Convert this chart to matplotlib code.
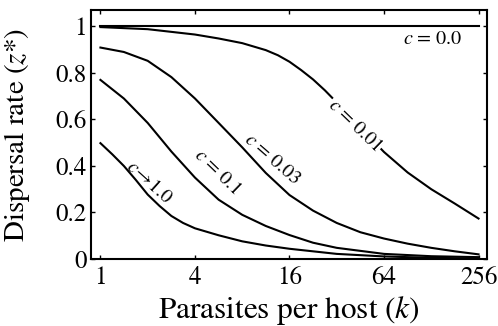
import numpy as np
import matplotlib
matplotlib.use("Agg")
import matplotlib.pyplot as plt
from matplotlib.ticker import NullLocator

# serif look of the original figure
matplotlib.rc('font', family='STIXGeneral')
matplotlib.rc('mathtext', fontset='stix')

# values (k on a log2 axis)
k_flat = [1, 256]
z_flat = [1.0, 1.0]

k_c001 = [1, 2, 4, 5.66, 8, 11.3, 13.5, 16, 19, 22.6, 26.9, 32, 45.3, 64,
          90.5, 128, 181, 256]
z_c001 = [0.997, 0.988, 0.965, 0.948, 0.928, 0.898, 0.876, 0.848, 0.812,
          0.772, 0.725, 0.673, 0.565, 0.46, 0.372, 0.30, 0.238, 0.174]

k_c003 = [1, 1.41, 2, 2.83, 4, 5.66, 8, 11.3, 16, 22.6, 32, 45.3, 64, 90.5,
          128, 181, 256]
z_c003 = [0.909, 0.89, 0.852, 0.782, 0.69, 0.585, 0.48, 0.37, 0.275, 0.208,
          0.155, 0.115, 0.088, 0.066, 0.048, 0.033, 0.02]

k_c01 = [1, 1.41, 2, 2.83, 4, 5.66, 8, 11.3, 16, 22.6, 32, 64, 128, 256]
z_c01 = [0.77, 0.69, 0.585, 0.462, 0.35, 0.255, 0.19, 0.142, 0.103, 0.07,
         0.048, 0.022, 0.012, 0.008]

k_c1 = [1, 1.19, 1.41, 1.68, 2, 2.38, 2.83, 3.36, 4, 5.66, 8, 11.3, 16, 32,
        64, 128, 256]
z_c1 = [0.498, 0.45, 0.40, 0.34, 0.277, 0.228, 0.185, 0.155, 0.132, 0.102,
        0.076, 0.058, 0.044, 0.022, 0.011, 0.005, 0.002]

x_ticks = [1, 4, 16, 64, 256]
x_tick_labels = ['1', '4', '16', '64', '256']
y_ticks = [0, 0.2, 0.4, 0.6, 0.8, 1]
y_tick_labels = ['0', '0.2', '0.4', '0.6', '0.8', '1']

# curve labels: text, k, z, rotation, sits on the curve
curve_labels = [
  (r'$c$ = 0.0', 130, 0.942, 0, False),
  (r'$c$ = 0.01', 41.9, 0.575, -44, True),
  (r'$c$ = 0.03', 12.4, 0.426, -41, False),
  (r'$c$ = 0.1', 5.6, 0.374, -44, False),
  (r'$c\!\rightarrow\!$1.0', 2.06, 0.331, -42, False),
]


def main():
  fig = plt.figure(figsize=(4.98, 3.26), dpi=100)
  fig.subplots_adjust(left=0.1827, right=0.978, bottom=0.2055, top=0.969)
  ax = fig.add_subplot(111)

  for k, z in [(k_flat, z_flat), (k_c001, z_c001), (k_c003, z_c003),
               (k_c01, z_c01), (k_c1, z_c1)]:
    ax.plot(k, z, color='black', lw=1.5, solid_joinstyle='round')

  for text, k, z, rot, on_curve in curve_labels:
    box = dict(fc='white', ec='none', pad=0.5) if on_curve else None
    ax.text(k, z, text, fontsize=14.5, rotation=rot, rotation_mode='anchor',
            ha='center', va='center', bbox=box, zorder=5)

  ax.set_xscale('log', base=2)
  ax.set_xlim(2 ** -0.2, 2 ** 8.18)
  ax.set_ylim(0, 1.07)
  ax.set_xticks(x_ticks, x_tick_labels)
  ax.set_yticks(y_ticks, y_tick_labels)
  ax.xaxis.set_minor_locator(NullLocator())
  ax.yaxis.set_minor_locator(NullLocator())

  ax.tick_params(direction='in', length=3, width=1, top=True, right=True,
                 labelsize=18)
  ax.tick_params(axis='x', pad=5)
  ax.tick_params(axis='y', pad=3)
  for s in ax.spines.values():
    s.set_linewidth(1.5)

  ax.set_xlabel(r'Parasites per host ($k$)', fontsize=22.5)
  ax.set_ylabel(r'Dispersal rate ($z$*)', fontsize=21)
  ax.xaxis.set_label_coords(0.5, -0.14)
  ax.yaxis.set_label_coords(-0.15, 0.5)

  fig.savefig('out.png', dpi=100)


if __name__ == "__main__":
  main()
